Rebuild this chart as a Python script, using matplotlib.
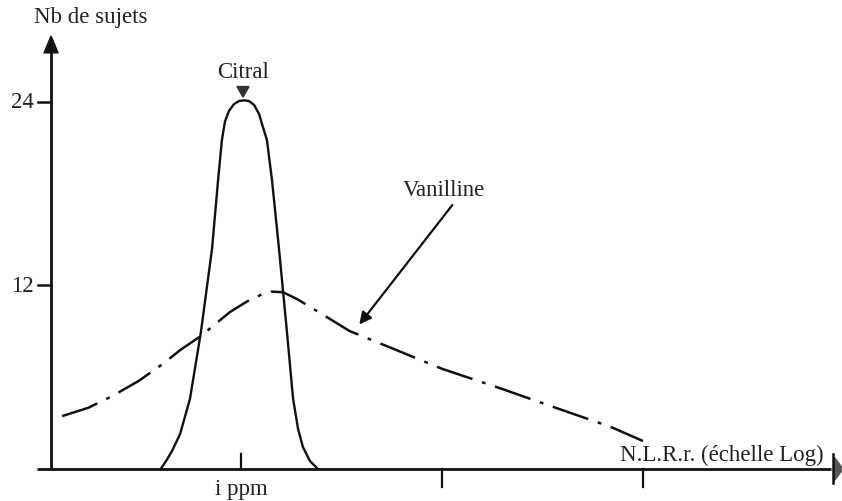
import matplotlib
matplotlib.use("Agg")
import matplotlib.pyplot as plt
from matplotlib.patches import Polygon

# x in log-decades relative to 1 ppm, y = number of subjects
citral_x = [-0.40, -0.373, -0.343, -0.303, -0.254, -0.200, -0.144, -0.114, -0.095, -0.080,
            -0.060, -0.035, -0.010, 0.015, 0.040, 0.065, 0.090, 0.108, 0.129, 0.154,
            0.189, 0.229, 0.259, 0.284, 0.308, 0.343, 0.383]
citral_y = [0.0, 0.52, 1.18, 2.29, 4.58, 8.9, 14.4, 18.9, 21.5, 22.7,
            23.4, 23.85, 24.05, 24.1, 24.05, 23.8, 23.2, 22.4, 21.5, 18.9,
            14.4, 8.9, 4.6, 2.61, 1.44, 0.52, 0.0]
vanil_x = [-0.89, -0.76, -0.64, -0.51, -0.39, -0.30, -0.20, -0.13, -0.055, 0.03, 0.11,
           0.15, 0.21, 0.28, 0.40, 0.54, 0.75, 1.00, 1.30, 1.54, 1.84, 2.00]
vanil_y = [3.46, 4.0, 4.77, 5.75, 6.86, 7.8, 8.69, 9.45, 10.26, 10.95, 11.45,
           11.6, 11.55, 11.1, 10.15, 9.02, 7.9, 6.55, 5.23, 4.12, 2.75, 1.83]

y_ticks = [12, 24]
y_tick_labels = ["12", "24"]
x_ticks_down = [1, 2]

fig = plt.figure(figsize=(8.42, 5.02), dpi=100)
ax = fig.add_axes([0, 0, 1, 1])
ax.set_xlim(-1.199, 2.990)
ax.set_ylim(-2.09, 30.72)
ax.axis("off")

font = dict(family="Liberation Serif", fontsize=16.5, color="#222222")
k = "#111111"

# axes
x0 = -0.945
ax.plot([-1.015, 2.935], [0, 0], color=k, lw=2.0, solid_capstyle="butt")
ax.plot([x0, x0], [0, 27.3], color=k, lw=2.0, solid_capstyle="butt")
ax.add_patch(Polygon([[x0 - 0.035, 27.2], [x0 + 0.035, 27.2], [x0, 28.3]],
                     closed=True, color=k))
ax.add_patch(Polygon([[2.950, 0.8], [2.950, -0.8], [2.995, 0]], closed=True, color="#555555"))
ax.plot([2.945, 2.945], [-0.9, 1.0], color=k, lw=1.8)

# ticks
for t, lab in zip(y_ticks, y_tick_labels):
    ax.plot([x0 - 0.065, x0], [t, t], color=k, lw=1.8)
    ax.text(x0 - 0.085, t, lab, ha="right", va="center", **font)
ax.plot([0, 0], [0, 1.0], color=k, lw=1.6)
for t in x_ticks_down:
    ax.plot([t, t], [0, -1.2], color=k, lw=1.6)

# curves
ax.plot(citral_x, citral_y, color=k, lw=1.7, solid_joinstyle="round")
ax.plot(vanil_x, vanil_y, color=k, lw=1.8, linestyle=(0, (15, 4, 1.5, 4)))

# labels
ax.text(-1.03, 29.6, "Nb de sujets", ha="left", va="center", **font)
ax.text(0.01, 25.95, "Citral", ha="center", va="center", **font)
ax.add_patch(Polygon([[-0.02, 25.0], [0.04, 25.0], [0.01, 24.3]], closed=True, color="#333333"))
ax.text(1.01, 18.3, "Vanilline", ha="center", va="center", **font)
ax.annotate("", xy=(0.58, 9.3), xytext=(1.06, 17.4),
            arrowprops=dict(arrowstyle="-|>", color=k, lw=1.6, mutation_scale=18))
ax.text(2.90, 0.95, "N.L.R.r. (échelle Log)", ha="right", va="center", **font)
ax.text(0.0, -1.3, "i ppm", ha="center", va="center", **font)

fig.savefig("out.png", dpi=100)
